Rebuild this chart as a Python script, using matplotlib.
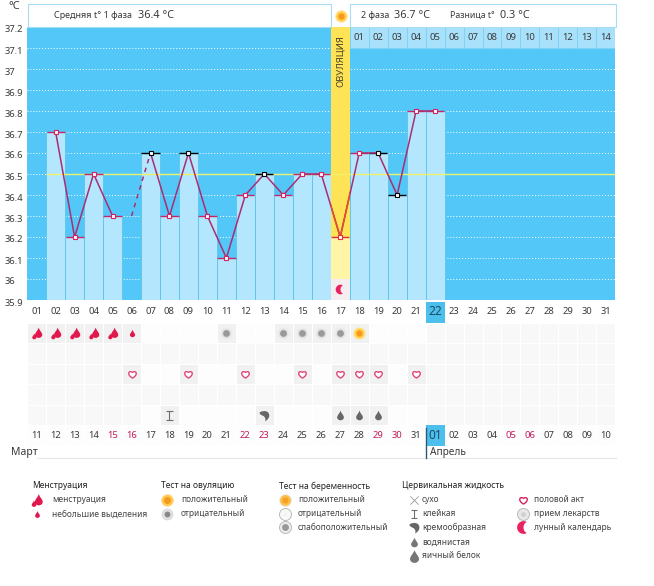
import numpy as np
import matplotlib
matplotlib.use("Agg")
import matplotlib.pyplot as plt
from matplotlib.colors import ListedColormap
from matplotlib.path import Path
from matplotlib.transforms import Affine2D, ScaledTranslation

plt.rcParams['font.family'] = ['Noto Sans', 'DejaVu Sans']

# temperature chart
bar_days = [2, 3, 4, 5, 7, 8, 9, 10, 11, 12, 13, 14, 15, 16, 18, 19, 20, 21, 22]
bar_temps = [36.7, 36.2, 36.5, 36.3, 36.6, 36.3, 36.6, 36.3, 36.1, 36.4, 36.5, 36.4, 36.5, 36.5, 36.6, 36.6, 36.4, 36.8, 36.8]
first_days = [2, 3, 4, 5]
first_temps = [36.7, 36.2, 36.5, 36.3]
gap_days = [6, 7]
gap_temps = [36.3, 36.6]
line_days = [7, 8, 9, 10, 11, 12, 13, 14, 15, 16, 17, 18, 19, 20, 21, 22]
line_temps = [36.6, 36.3, 36.6, 36.3, 36.1, 36.4, 36.5, 36.4, 36.5, 36.5, 36.2, 36.6, 36.6, 36.4, 36.8, 36.8]
black_days = [7, 9, 13, 19, 20]
ovulation_day = 17
ovulation_temp = 36.2
cover_line = 36.5
y_ticks = [35.9, 36.0, 36.1, 36.2, 36.3, 36.4, 36.5, 36.6, 36.7, 36.8, 36.9, 37.0, 37.1, 37.2]
y_labels = ['35.9', '36', '36.1', '36.2', '36.3', '36.4', '36.5', '36.6', '36.7', '36.8', '36.9', '37', '37.1', '37.2']
days = list(range(1, 32))
cycle_labels = ['%02d' % d for d in days]
second_phase_days = list(range(18, 32))
second_phase_labels = ['%02d' % d for d in range(1, 15)]
date_labels = ['11', '12', '13', '14', '15', '16', '17', '18', '19', '20', '21', '22', '23', '24', '25', '26',
               '27', '28', '29', '30', '31', '01', '02', '03', '04', '05', '06', '07', '08', '09', '10']
weekend_labels_at = [5, 6, 12, 13, 19, 20, 26, 27]
today = 22

# symptom rows
menses_days = [1, 2, 3, 4, 5]
spotting_days = [6]
ovu_neg_days = [11, 14, 15, 16, 17]
ovu_pos_days = [18]
sex_days = [6, 9, 12, 15, 17, 18, 19, 21]
sticky_days = [8]
creamy_days = [13]
watery_days = [17, 18, 19]

W, H = 654, 586
BLUE = '#53C8F8'
LIGHT = '#B4E6FD'
EDGE = '#62C6EE'
PINK = '#C4286A'
GREY = '#6E6E6E'
TEXT = '#3A3A3A'


def drop_path(scale=1.0, dx=0.0, dy=0.0):
    verts = [(0, 1), (0.2, 0.4), (0.7, 0.05), (0.7, -0.4), (0.7, -0.8), (0.3, -1), (0, -1),
             (-0.3, -1), (-0.7, -0.8), (-0.7, -0.4), (-0.7, 0.05), (-0.2, 0.4), (0, 1), (0, 1)]
    codes = [Path.MOVETO] + [Path.CURVE4] * 12 + [Path.CLOSEPOLY]
    return Path(verts, codes).transformed(Affine2D().scale(scale).translate(dx, dy))


double_drop = Path.make_compound_path(drop_path(0.88, 0.2, 0.12), drop_path(0.5, -0.55, -0.5))
heart = Path([(0, -1), (-1.7, -0.1), (-1.1, 1.35), (0, 0.6), (1.1, 1.35), (1.7, -0.1), (0, -1), (0, -1)],
             [Path.MOVETO] + [Path.CURVE4] * 6 + [Path.CLOSEPOLY])
comma = Path([(-0.9, 0.6), (0, 1.1), (0.9, 0.8), (0.9, 0), (0.9, -0.5), (0.5, -0.9), (0.1, -1.1),
              (0.3, -0.7), (0.1, -0.3), (-0.2, -0.1), (-0.6, 0.1), (-1.0, 0.2), (-0.9, 0.6), (-0.9, 0.6)],
             [Path.MOVETO] + [Path.CURVE4] * 12 + [Path.CLOSEPOLY])
sticky = Path([(-0.8, 1), (0.8, 1), (0, 1), (0, -1), (-0.8, -1), (0.8, -1)],
              [Path.MOVETO, Path.LINETO, Path.MOVETO, Path.LINETO, Path.MOVETO, Path.LINETO])
t1 = np.radians(np.linspace(60, 300, 30))
t2 = np.radians(np.linspace(250, 110, 20))
moon = Path(np.vstack([np.c_[np.cos(t1), np.sin(t1)],
                       np.c_[0.75 + 0.75 * np.cos(t2), 0.9 * np.sin(t2)]]), closed=False)


def px_axes(left, top, right, bottom):
    return fig.add_axes([left / W, 1 - bottom / H, (right - left) / W, (bottom - top) / H])


def ring(ax, x, y, outer, inner, edge, mid, core):
    ax.scatter(x, y, s=outer, color=mid, edgecolors=edge, linewidths=0.7, zorder=5)
    ax.scatter(x, y, s=inner, color=core, linewidths=0, zorder=6)


fig = plt.figure(figsize=(W / 100, H / 100), dpi=100)

# main chart
ax = px_axes(27.2, 27, 615.3, 300)
ax.set_facecolor(BLUE)
ax.set_xlim(0.5, 31.5)
ax.set_ylim(35.9, 37.2)
ax.set_yticks(y_ticks)
ax.set_yticklabels(y_labels, fontsize=6.8, color=TEXT)
ax.set_xticks([])
ax.tick_params(axis='y', length=0, pad=16)
shift = ScaledTranslation(0, -2 / 100, fig.dpi_scale_trans)
for lab in ax.get_yticklabels():
    lab.set_ha('left')
    lab.set_transform(lab.get_transform() + shift)
for s in ax.spines.values():
    s.set_visible(False)
ax.set_axisbelow(True)
ax.grid(axis='y', color='white', linestyle=(0, (1, 2)), linewidth=0.7)

ax.bar(bar_days, [t - 35.9 for t in bar_temps], bottom=35.9, width=1, color=LIGHT, edgecolor=EDGE,
       linewidth=0.7, zorder=1)
ax.bar(second_phase_days, 0.1, bottom=37.1, width=1, color='#A9E1FA', edgecolor='#7CD2F4', linewidth=0.6, zorder=1)
for d, lab in zip(second_phase_days, second_phase_labels):
    ax.text(d, 37.148, lab, ha='center', va='center', fontsize=6.8, color=TEXT, zorder=3)

gold = ax.bar(ovulation_day, 37.2 - ovulation_temp, bottom=ovulation_temp, width=1, color='#FFE356', zorder=1.5)
ax.bar(ovulation_day, ovulation_temp - 35.9, bottom=35.9, width=1, color='#FFF5A6', zorder=1.5)
ax.bar(ovulation_day, 0.1, bottom=35.9, width=1, color='#F5EEF0', zorder=1.6)
ax.text(ovulation_day + 0.03, 37.04, 'ОВУЛЯЦИЯ', rotation=90, ha='center', va='center', fontsize=6.8,
        color='#4A4424', zorder=3)
ax.scatter(ovulation_day, 35.95, marker=moon, s=48, color='#E8235F', linewidths=0, zorder=3)

ax.hlines(cover_line, 1.5, 31.5, color='#EEF16C', linewidth=1, zorder=2)

all_days = bar_days + [ovulation_day]
all_temps = bar_temps + [ovulation_temp]
for d, t in zip(all_days, all_temps):
    c = 'black' if d in black_days else ('#E0303A' if d == ovulation_day else PINK)
    ax.hlines(t, d - 0.48, d + 0.48, color=c, linewidth=1, zorder=3)

ax.plot(first_days, first_temps, color='#A82E72', linewidth=1.1, zorder=4)
ax.plot(line_days, line_temps, color='#A82E72', linewidth=1.1, zorder=4)
ax.plot(gap_days, gap_temps, color='#A82E72', linewidth=1.1, linestyle=(0, (3, 3)), zorder=4)

# the line turns orange where it crosses the ovulation column
i = line_days.index(ovulation_day)
warm, = ax.plot(line_days[i - 1:i + 2], line_temps[i - 1:i + 2], color='#E2502E', linewidth=1.1, zorder=4.1)
warm.set_clip_path(gold[0])

for d, t in zip(all_days, all_temps):
    c = 'black' if d in black_days else ('#E0303A' if d == ovulation_day else '#D8205E')
    ax.plot(d, t, marker='s', markersize=3.2, markerfacecolor='white', markeredgecolor=c,
            markeredgewidth=0.8, linestyle='none', zorder=5)

# rows under the chart
panel = px_axes(27.2, 302, 615.3, 446)
panel.set_xlim(0.5, 31.5)
panel.set_ylim(7, 0)
panel.axis('off')
rows = np.zeros((7, 31), dtype=int) + 1
rows[0, :] = 0
rows[[1, 3, 5], 6:21] = 2
rows[1:6, 21:] = 1
for d in menses_days + spotting_days + ovu_neg_days + ovu_pos_days:
    rows[1, d - 1] = 3
for d in sex_days:
    rows[3, d - 1] = 3
for d in sticky_days + creamy_days + watery_days:
    rows[5, d - 1] = 3
rows[6, :] = 2
panel.pcolormesh(np.arange(0.5, 32), np.arange(0, 8), rows, vmin=0, vmax=3,
                 cmap=ListedColormap(['white', '#F8F8F8', '#FDFDFD', '#F1F1F1']),
                 edgecolors='white', linewidth=0.5)
panel.bar(today, 1, bottom=0, width=1, color='#4DBFEC', zorder=2)
panel.bar(today, 1, bottom=6, width=1, color='#4DBFEC', zorder=2)

for d, lab in zip(days, cycle_labels):
    big = d == today
    panel.text(d, 0.46, lab, ha='center', va='center', fontsize=8.5 if big else 6.8, color='#1C4A66' if big else TEXT, zorder=3)
for d, lab in zip(days, date_labels):
    big = d == today
    c = '#C2185B' if d in weekend_labels_at else TEXT
    panel.text(d, 6.5, lab, ha='center', va='center', fontsize=8.5 if big else 6.8, color='#1C4A66' if big else c, zorder=3)

panel.scatter(menses_days, [1.5] * len(menses_days), marker=double_drop, s=70, color='#E0184E', linewidths=0, zorder=4)
panel.scatter(spotting_days, [1.5] * len(spotting_days), marker=drop_path(), s=28, color='#E0184E', linewidths=0, zorder=4)
ring(panel, ovu_neg_days, [1.5] * len(ovu_neg_days), 60, 24, '#EDEDED', '#E2E2E2', '#9A9A9A')
ring(panel, ovu_pos_days, [1.5], 62, 20, '#FFE08A', '#FFD24A', '#F59A1E')
panel.scatter(sex_days, [3.5] * len(sex_days), marker=heart, s=75, facecolors='white', edgecolors='#E0457B', linewidths=1, zorder=4)
panel.scatter(sticky_days, [5.5] * len(sticky_days), marker=sticky, s=40, facecolors='none', edgecolors=GREY, linewidths=0.8, zorder=4)
panel.scatter(creamy_days, [5.5] * len(creamy_days), marker=comma, s=70, color='#666666', linewidths=0, zorder=4)
panel.scatter(watery_days, [5.5] * len(watery_days), marker=drop_path(), s=48, color='#666666', linewidths=0, zorder=4)

# header, labels and legend, in picture pixels
ov = fig.add_axes([0, 0, 1, 1])
ov.set_xlim(0, W)
ov.set_ylim(H, 0)
ov.axis('off')
for x0, x1 in [(27.5, 331), (350, 615.5)]:
    ov.fill([x0, x1, x1, x0], [3.5, 3.5, 27, 27], facecolor='white', edgecolor='#A6DDF2', linewidth=0.8)
ring(ov, [340.5], [16], 70, 22, '#FFE9B0', '#FFD24A', '#F59A1E')


def label(x, y, s, size=7, color=TEXT, **kw):
    ov.text(x, y, s, ha='left', va='center', fontsize=size, color=color, **kw)


label(8, 6.5, '°C', 8)
label(54, 15.5, 'Средняя t° 1 фаза', 6.5)
label(138, 15, '36.4 °C', 7.8)
label(361, 15.5, '2 фаза', 6.5)
label(394, 15, '36.7 °C', 7.8)
label(450, 15.5, 'Разница t°', 6.3)
label(500, 15, '0.3 °C', 7.8)
label(11, 452, 'Март', 7.5)
label(430, 452, 'Апрель', 7.3)
ov.plot([37, 615.5], [457.5, 457.5], color='#E6E6E6', linewidth=0.8)
ov.plot([25, 615.5], [585.5, 585.5], color='#EEEEEE', linewidth=0.8)
ov.plot([425.5, 425.5], [428, 458], color='#2A5A78', linewidth=1)

for x, s in [(32, 'Менструация'), (161, 'Тест на овуляцию'), (279, 'Тест на беременность'), (402, 'Цервикальная жидкость')]:
    label(x, 486, s, 6.1, '#222222', fontweight='bold')

for x, y, s in [(52, 500, 'менструация'), (52, 514, 'небольшие выделения'),
                (181, 500, 'положительный'), (181, 514, 'отрицательный'),
                (298, 500, 'положительный'), (298, 514, 'отрицательный'), (298, 527, 'слабоположительный'),
                (422, 500, 'сухо'), (422, 514, 'клейкая'), (422, 527, 'кремообразная'), (422, 542, 'водянистая'),
                (422, 556, 'яичный белок'),
                (534, 500, 'половой акт'), (534, 514, 'прием лекарств'), (534, 527, 'лунный календарь')]:
    label(x, y, s, 6.05, '#444444')

ov.scatter([37], [500], marker=double_drop, s=85, color='#E0184E', linewidths=0)
ov.scatter([37], [514], marker=drop_path(), s=24, color='#E0184E', linewidths=0)
ring(ov, [167], [500], 70, 25, '#FFD890', '#FFC94A', '#F59A1E')
ring(ov, [167], [514], 60, 18, '#D8D8D8', '#E2E2E2', '#888888')
ring(ov, [285], [500], 75, 20, '#EDEDED', '#FBC04C', '#F7A21E')
ring(ov, [285], [514], 75, 5, '#BBBBBB', '#F8F8F8', '#F0F0F0')
ring(ov, [285], [527], 75, 25, '#BBBBBB', '#EEEEEE', '#999999')
ov.scatter([414], [500], marker='x', s=36, color='#999999', linewidths=0.6)
ov.scatter([414], [514], marker=sticky, s=32, facecolors='none', edgecolors=GREY, linewidths=0.8)
ov.scatter([414], [527], marker=comma, s=75, color='#666666', linewidths=0)
ov.scatter([414], [542], marker=drop_path(), s=48, color='#777777', linewidths=0)
ov.scatter([414], [556], marker=drop_path(), s=85, color='#777777', linewidths=0)
ov.scatter([523], [500], marker=heart, s=75, facecolors='white', edgecolors='#D8205E', linewidths=1)
ring(ov, [523], [514], 75, 12, '#BBBBBB', '#E8E8E8', '#D0D0D0')
ov.scatter([523], [527], marker=moon, s=85, color='#E8235F', linewidths=0)

fig.savefig('out.png', dpi=100)
